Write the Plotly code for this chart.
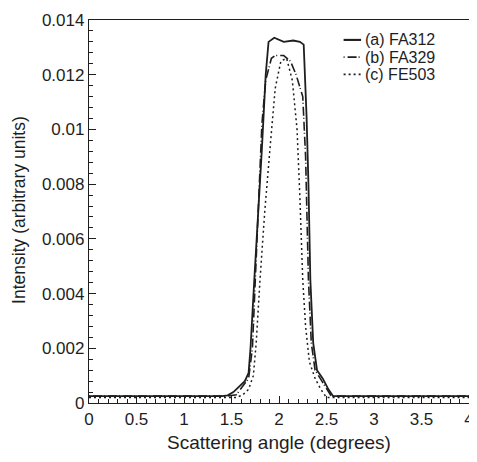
import plotly.graph_objects as go

# Curve (a) FA312 - solid
xa = [0, 1.40, 1.46, 1.52, 1.58, 1.64, 1.68, 1.70, 1.74, 1.78, 1.82, 1.86, 1.89, 1.95,
      2.05, 2.15, 2.22, 2.26, 2.29, 2.31, 2.33, 2.36, 2.40, 2.46, 2.52, 2.57, 4.0]
ya = [0.00025, 0.00025, 0.00028, 0.0004, 0.0006, 0.0008, 0.0011, 0.0020, 0.0045, 0.0068,
      0.0093, 0.0120, 0.0132, 0.01335, 0.0132, 0.01325, 0.0132, 0.0131, 0.0105, 0.0080,
      0.0045, 0.0022, 0.0012, 0.0009, 0.0005, 0.00025, 0.00025]

# Curve (b) FA329 - dash-dot
xb = [0, 1.45, 1.55, 1.62, 1.68, 1.72, 1.75, 1.79, 1.82, 1.86, 1.92, 1.96, 2.05, 2.12,
      2.18, 2.25, 2.28, 2.31, 2.34, 2.38, 2.45, 2.50, 2.55, 4.0]
yb = [0.00025, 0.00025, 0.0003, 0.0006, 0.0009, 0.0020, 0.0045, 0.0075, 0.0102, 0.0118,
      0.0126, 0.0127, 0.0127, 0.0125, 0.0120, 0.0112, 0.0090, 0.0045, 0.0022, 0.0012,
      0.0008, 0.0005, 0.00025, 0.00025]

# Curve (c) FE503 - dotted
xc = [0, 1.55, 1.62, 1.68, 1.73, 1.76, 1.80, 1.85, 1.91, 1.96, 2.02, 2.08, 2.14, 2.19,
      2.22, 2.25, 2.28, 2.32, 2.38, 2.44, 2.50, 4.0]
yc = [0.0002, 0.0002, 0.0003, 0.0005, 0.0010, 0.0022, 0.0045, 0.0070, 0.0095, 0.0115,
      0.0125, 0.0126, 0.0118, 0.0100, 0.0075, 0.0045, 0.0028, 0.0015, 0.0009, 0.0005,
      0.0002, 0.0002]

names = ["(a) FA312", "(b) FA329", "(c) FE503"]
dashes = ["solid", "1px,3px,9px,2px", "2px,3px"]
widths = [1.8, 1.6, 1.5]
ink = "#1e1e1e"
font = "Liberation Sans, Arial, sans-serif"

fig = go.Figure()
for xs, ys, nm, ds, w in zip([xa, xb, xc], [ya, yb, yc], names, dashes, widths):
    fig.add_trace(go.Scatter(x=xs, y=ys, mode="lines", name=nm, showlegend=False,
                             line=dict(color=ink, width=w, dash=ds)))

# Custom compact legend (keys + labels) in the top-right corner
leg_y = [0.948, 0.903, 0.858]
for nm, ds, w, yy in zip(names, dashes, widths, leg_y):
    fig.add_shape(type="line", xref="paper", yref="paper", x0=0.670, x1=0.716, y0=yy, y1=yy,
                  line=dict(color=ink, width=w + 0.3, dash=ds))
    fig.add_annotation(xref="paper", yref="paper", x=0.721, y=yy, text=nm, showarrow=False,
                       xanchor="left", yanchor="middle",
                       font=dict(family=font, size=16, color=ink))

# Y axis title placed as rotated text to match the reference position
fig.add_annotation(xref="paper", yref="paper", x=-0.186, y=0.505, xanchor="center",
                   yanchor="middle", textangle=-90, showarrow=False,
                   text="Intensity (arbitrary units)",
                   font=dict(family=font, size=17.5, color=ink))

axis_common = dict(
    showline=True, linecolor=ink, linewidth=1.3, mirror=True,
    ticks="inside", ticklen=7, tickwidth=1, tickcolor=ink,
    showgrid=False, zeroline=False, ticklabeloverflow="allow",
    tickfont=dict(family=font, size=17, color=ink),
)

fig.update_xaxes(range=[0, 4], dtick=0.5, tick0=0,
                 minor=dict(ticks="inside", ticklen=4, dtick=0.1, tickcolor=ink, showgrid=False),
                 title=dict(text="Scattering angle (degrees)", font=dict(family=font, size=19, color=ink),
                            standoff=8),
                 **axis_common)
fig.update_yaxes(range=[0, 0.014], dtick=0.002, tick0=0,
                 minor=dict(ticks="inside", ticklen=4, dtick=0.0004, tickcolor=ink, showgrid=False),
                 **axis_common)

fig.update_layout(
    width=469, height=454,
    margin=dict(l=81, r=3, t=7, b=59),
    paper_bgcolor="white", plot_bgcolor="white",
    font=dict(family=font, color=ink),
    showlegend=False,
)

fig.write_html("out.html")
